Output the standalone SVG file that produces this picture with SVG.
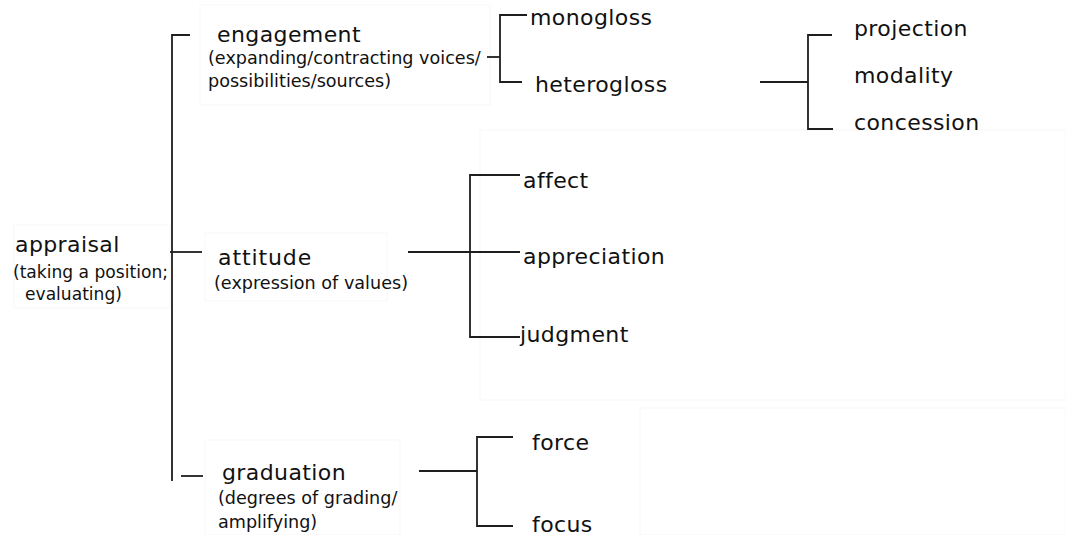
<svg xmlns="http://www.w3.org/2000/svg" width="1066" height="535" viewBox="0 0 1066 535">
<style>
.t{font-family:"DejaVu Sans",Verdana,sans-serif;font-size:22px;letter-spacing:0.4px;fill:#111}
.s{font-family:"DejaVu Sans",Verdana,sans-serif;font-size:17.6px;fill:#111}
.ln{stroke:#1e1e1e;stroke-width:1.8;fill:none}
.bg{fill:none;stroke:#f7f7f7;stroke-width:1}
</style>
<rect width="1066" height="535" fill="#fff"/>
<g id="backgrounds">
<rect class="bg" x="200" y="5" width="290" height="100"/>
<rect class="bg" x="14" y="225" width="156" height="83"/>
<rect class="bg" x="205" y="233" width="182" height="68"/>
<rect class="bg" x="480" y="130" width="586" height="270"/>
<rect class="bg" x="205" y="440" width="195" height="95"/>
<rect class="bg" x="640" y="408" width="426" height="127"/>
</g>
<g id="connectors">
<path class="ln" d="M190,35 H172 V481"/>
<path class="ln" d="M170,252 H202"/>
<path class="ln" d="M181,476 H203"/>
<path class="ln" d="M487,57 H500"/>
<path class="ln" d="M527,15 H500 V82 H522"/>
<path class="ln" d="M760,82 H808"/>
<path class="ln" d="M832,35 H808 V129 H833"/>
<path class="ln" d="M408,252 H520"/>
<path class="ln" d="M520,175 H470 V337 H520"/>
<path class="ln" d="M419,471 H477"/>
<path class="ln" d="M513,437 H477 V526 H513"/>
</g>
<g id="appraisal">
<text class="t" x="15" y="252">appraisal</text>
<text class="s" x="13" y="278" style="font-size:17.1px">(taking a position;</text>
<text class="s" x="25" y="300" style="font-size:17.1px">evaluating)</text>
</g>
<g id="engagement">
<text class="t" x="217" y="42">engagement</text>
<text class="s" x="208" y="64">(expanding/contracting voices/</text>
<text class="s" x="208" y="87">possibilities/sources)</text>
</g>
<g id="attitude">
<text class="t" x="218" y="265" style="letter-spacing:0.9px">attitude</text>
<text class="s" x="214" y="289">(expression of values)</text>
</g>
<g id="graduation">
<text class="t" x="222" y="480">graduation</text>
<text class="s" x="218" y="504">(degrees of grading/</text>
<text class="s" x="218" y="528">amplifying)</text>
</g>
<g id="monogloss"><text class="t" x="530" y="25">monogloss</text></g>
<g id="heterogloss"><text class="t" x="535" y="92">heterogloss</text></g>
<g id="projection"><text class="t" x="854" y="36">projection</text></g>
<g id="modality"><text class="t" x="854" y="83">modality</text></g>
<g id="concession"><text class="t" x="854" y="130">concession</text></g>
<g id="affect"><text class="t" x="523" y="188">affect</text></g>
<g id="appreciation"><text class="t" x="523" y="264">appreciation</text></g>
<g id="judgment"><text class="t" x="520" y="342">judgment</text></g>
<g id="force"><text class="t" x="532" y="450">force</text></g>
<g id="focus"><text class="t" x="532" y="532">focus</text></g>
</svg>
